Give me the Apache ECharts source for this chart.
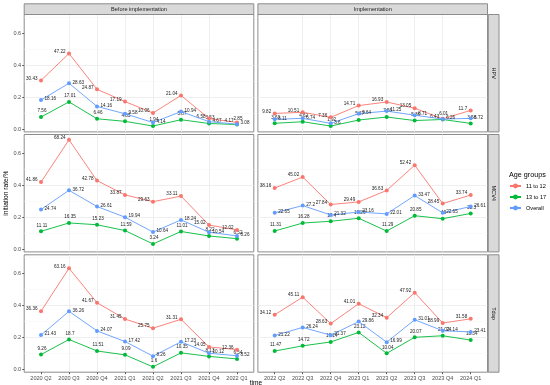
<!DOCTYPE html>
<html><head><meta charset="utf-8">
<script src="https://cdn.jsdelivr.net/npm/echarts@6/dist/echarts.min.js"></script>
<style>html,body{margin:0;padding:0;background:#fff}#c{width:550px;height:385px}</style>
</head><body><div id="c"></div>
<script>
// ---------- categories ----------
const beforeQuarters = ['2020 Q2','2020 Q3','2020 Q4','2021 Q1','2021 Q2','2021 Q3','2021 Q4','2022 Q1'];
const implQuarters   = ['2022 Q2','2022 Q3','2022 Q4','2023 Q1','2023 Q2','2023 Q3','2023 Q4','2024 Q1'];
const phases   = ['Before implementation','Implementation'];
const vaccines = ['HPV','MCV4','Tdap'];
const groups   = ['11 to 12','13 to 17','Overall'];
const yTicks   = [0, 0.2, 0.4, 0.6];

// ---------- values (labels as shown, %; plotted as value/100) ----------
const hpv_before_11to12  = [30.43, 47.22, 24.87, 17.19, 10.06, 21.04, 6.58, 4.17];
const hpv_before_13to17  = [7.56, 17.01, 6.46, 4.85, 1.94, 5.87, 3.53, 2.85];
const hpv_before_overall = [18.16, 28.63, 14.16, 9.58, 4.14, 10.94, 4.67, 3.08];
const hpv_impl_11to12    = [9.82, 10.51, 7.36, 14.71, 16.93, 13.05, 6.43, 11.7];
const hpv_impl_13to17    = [3.63, 4.62, 1.92, 5.67, 7.56, 5.36, 6.01, 3.58];
const hpv_impl_overall   = [6.11, 6.74, 3.6, 9.64, 11.25, 8.71, 6.26, 6.72];

const mcv4_before_11to12  = [41.86, 68.24, 42.78, 33.87, 29.63, 33.11, 15.02, 12.02];
const mcv4_before_13to17  = [11.11, 16.35, 15.23, 11.59, 3.24, 11.01, 8.22, 6.52];
const mcv4_before_overall = [24.74, 36.72, 26.61, 19.94, 10.64, 18.24, 10.54, 8.26];
const mcv4_impl_11to12    = [38.16, 45.02, 27.84, 29.49, 36.63, 52.42, 28.45, 33.74];
const mcv4_impl_13to17    = [11.31, 16.28, 17.4, 19.26, 11.29, 20.85, 19, 22.3];
const mcv4_impl_overall   = [22.65, 27.2, 21.32, 23.16, 22.01, 33.47, 22.65, 26.61];

const tdap_before_11to12  = [36.36, 63.16, 41.67, 31.45, 25.75, 31.31, 14.05, 12.36];
const tdap_before_13to17  = [9.26, 18.7, 11.51, 9.09, 1.6, 10.35, 8.13, 6.54];
const tdap_before_overall = [21.43, 36.26, 24.07, 17.42, 8.26, 17.23, 10.12, 8.52];
const tdap_impl_11to12    = [34.12, 45.11, 28.63, 41.01, 32.34, 47.92, 28.99, 31.58];
const tdap_impl_13to17    = [11.47, 14.72, 17.14, 23.12, 10.04, 20.07, 21.02, 18.34];
const tdap_impl_overall   = [21.22, 26.24, 21.37, 29.86, 16.99, 31.01, 24.14, 23.41];

// panel table: [row][col] -> [11to12, 13to17, overall]
const panels = [
  [[hpv_before_11to12, hpv_before_13to17, hpv_before_overall],
   [hpv_impl_11to12, hpv_impl_13to17, hpv_impl_overall]],
  [[mcv4_before_11to12, mcv4_before_13to17, mcv4_before_overall],
   [mcv4_impl_11to12, mcv4_impl_13to17, mcv4_impl_overall]],
  [[tdap_before_11to12, tdap_before_13to17, tdap_before_overall],
   [tdap_impl_11to12, tdap_impl_13to17, tdap_impl_overall]]
];
const quarterSets = [beforeQuarters, implQuarters];

// ---------- styles ----------
const colors = ['#F8766D', '#00BA38', '#619CFF'];
const FONT = 'Liberation Sans, Arial, sans-serif';
const colLeft = [24.2, 257.9], colW = 229.6;
const rowTop = [14.5, 134.5, 254.8], rowH = 117.4;
const borderColor = '#8C8C8C';
const labelStyles = [
  {position: 'left', distance: 1.5, offset: [0, -2]},
  {position: 'top', distance: 1.5, offset: [1, 0]},
  {position: 'right', distance: 1.5, offset: [0, -1]}
];

// y range like ggplot (5% expansion of data range)
let all = [];
panels.forEach(r => r.forEach(c => c.forEach(a => all = all.concat(a))));
const dMin = Math.min(...all) / 100, dMax = Math.max(...all) / 100;
const yMin = dMin - 0.05 * (dMax - dMin), yMax = dMax + 0.05 * (dMax - dMin);

const grids = [], xAxes = [], yAxes = [], series = [];
for (let r = 0; r < 3; r++) {
  for (let c = 0; c < 2; c++) {
    const g = r * 2 + c;
    const cats = quarterSets[c];
    grids.push({left: colLeft[c], top: rowTop[r], width: colW, height: rowH,
      show: true, backgroundColor: '#fff', borderColor: borderColor, borderWidth: 1, containLabel: false});
    xAxes.push({
      gridIndex: g, type: 'value', position: 'bottom', min: -0.6, max: 7.6, splitNumber: 8, minInterval: 1, maxInterval: 1,
      axisLine: {show: false, onZero: false},
      axisTick: {show: r === 2, length: 2, lineStyle: {color: '#333', width: 0.8}, customValues: [0,1,2,3,4,5,6,7]},
      axisLabel: {show: r === 2, customValues: [0,1,2,3,4,5,6,7], fontSize: 5.6, color: '#4D4D4D', margin: 3, fontFamily: FONT,
        formatter: v => { const i = Math.round(v); return Math.abs(v - i) < 1e-6 ? cats[i] : ''; }},
      splitLine: {show: true, showMinLine: false, showMaxLine: false, lineStyle: {color: '#EBEBEB', width: 0.8}}
    });
    const ya = {
      gridIndex: g, type: 'value', position: 'left', min: yMin, max: yMax, splitNumber: 4, minInterval: 0.2, maxInterval: 0.2,
      axisLine: {show: false, onZero: false},
      axisTick: {show: c === 0, length: 2, lineStyle: {color: '#333', width: 0.8}, customValues: yTicks},
      axisLabel: {show: c === 0, customValues: yTicks, fontSize: 5.6, color: '#4D4D4D', margin: 3, fontFamily: FONT,
        formatter: v => { const k = Math.round(v * 5); return Math.abs(v * 5 - k) < 1e-6 ? (k / 5).toFixed(1) : ''; }},
      splitLine: {show: true, showMinLine: false, showMaxLine: false, lineStyle: {color: '#EBEBEB', width: 0.8}},
      minorTick: {show: false, splitNumber: 2},
      minorSplitLine: {show: true, lineStyle: {color: '#F5F5F5', width: 0.5}}
    };
    if (r === 1 && c === 0) {
      ya.name = 'initiation rate/%';
      ya.nameLocation = 'middle';
      ya.nameGap = 15;
      ya.nameTextStyle = {fontSize: 6.6, color: '#000', fontFamily: FONT};
    }
    yAxes.push(ya);
    panels[r][c].forEach((vals, k) => {
      series.push({
        name: groups[k], type: 'line', xAxisIndex: g, yAxisIndex: g,
        data: vals.map((v, i) => [i, v / 100]),
        symbol: 'circle', symbolSize: 4,
        lineStyle: {width: 0.9, color: colors[k]},
        itemStyle: {color: colors[k]},
        emphasis: {disabled: true},
        animation: false,
        z: 3 + (k === 1 ? 0 : k === 0 ? 1 : 2),
        label: Object.assign({show: true, fontSize: 4.6, color: '#222', fontFamily: FONT,
          formatter: p => String(vals[p.dataIndex])}, labelStyles[k])
      });
    });
  }
}

// strips, titles
const graphics = [];
for (let c = 0; c < 2; c++) {
  graphics.push({type: 'rect', shape: {x: colLeft[c], y: 3.8, width: colW, height: 10.7},
    style: {fill: '#D9D9D9', stroke: borderColor, lineWidth: 1}, z: 10});
  graphics.push({type: 'text', x: colLeft[c] + colW / 2, y: 9.2, z: 11,
    style: {text: phases[c], fontSize: 5.6, fill: '#1A1A1A', fontFamily: FONT, textAlign: 'center', textVerticalAlign: 'middle'}});
}
for (let r = 0; r < 3; r++) {
  graphics.push({type: 'rect', shape: {x: 488.3, y: rowTop[r], width: 10.7, height: rowH},
    style: {fill: '#D9D9D9', stroke: borderColor, lineWidth: 1}, z: 10});
  graphics.push({type: 'text', x: 493.7, y: rowTop[r] + rowH / 2, rotation: -Math.PI / 2, z: 11,
    style: {text: vaccines[r], fontSize: 5.6, fill: '#1A1A1A', fontFamily: FONT, textAlign: 'center', textVerticalAlign: 'middle'}});
}
graphics.push({type: 'text', x: 256, y: 379.5, z: 11,
  style: {text: 'time', fontSize: 6.6, fill: '#000', fontFamily: FONT, textAlign: 'center', textVerticalAlign: 'top'}});
graphics.push({type: 'text', x: 509, y: 175, z: 11,
  style: {text: 'Age groups', fontSize: 7.2, fill: '#000', fontFamily: FONT, textAlign: 'left', textVerticalAlign: 'middle'}});

const chart = echarts.init(document.getElementById('c'), null, {renderer: 'canvas'});
chart.setOption({
  animation: false,
  backgroundColor: '#fff',
  grid: grids, xAxis: xAxes, yAxis: yAxes, series: series,
  legend: {data: groups, orient: 'vertical', left: 509, top: 183, padding: 0,
    itemWidth: 11, itemHeight: 6, itemGap: 5, selectedMode: false,
    textStyle: {fontSize: 5.6, color: '#000', fontFamily: FONT, lineHeight: 6}},
  graphic: graphics
});
</script></body></html>
